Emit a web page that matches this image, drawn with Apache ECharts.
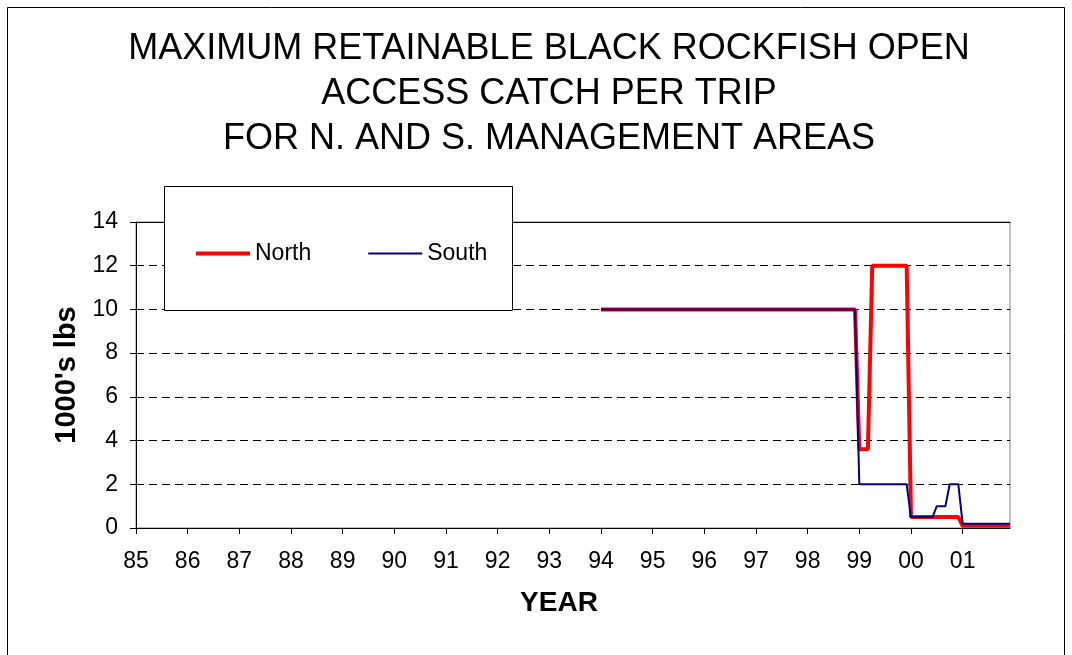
<!DOCTYPE html>
<html>
<head>
<meta charset="utf-8">
<script src="https://cdn.jsdelivr.net/npm/echarts@6/dist/echarts.min.js"></script>
<style>
html,body{margin:0;padding:0;background:#fff;}
#chart{width:1072px;height:655px;}
</style>
</head>
<body>
<div id="chart"></div>
<script>
// Tick labels (years) and months making up the monthly category axis
const yearLabels = ['85','86','87','88','89','90','91','92','93','94','95','96','97','98','99','00','01'];
const monthNames = ['Jan','Feb','Mar','Apr','May','Jun','Jul','Aug','Sep','Oct','Nov','Dec'];
const _ = null;

// North management area, monthly values (1000's lbs), Jan 1985 .. Dec 2001
const north = [
  _,_,_,_,_,_,_,_,_,_,_,_,          // 85
  _,_,_,_,_,_,_,_,_,_,_,_,          // 86
  _,_,_,_,_,_,_,_,_,_,_,_,          // 87
  _,_,_,_,_,_,_,_,_,_,_,_,          // 88
  _,_,_,_,_,_,_,_,_,_,_,_,          // 89
  _,_,_,_,_,_,_,_,_,_,_,_,          // 90
  _,_,_,_,_,_,_,_,_,_,_,_,          // 91
  _,_,_,_,_,_,_,_,_,_,_,_,          // 92
  _,_,_,_,_,_,_,_,_,_,_,_,          // 93
  10,10,10,10,10,10,10,10,10,10,10,10, // 94
  10,10,10,10,10,10,10,10,10,10,10,10, // 95
  10,10,10,10,10,10,10,10,10,10,10,10, // 96
  10,10,10,10,10,10,10,10,10,10,10,10, // 97
  10,10,10,10,10,10,10,10,10,10,10,10, // 98
  3.6,3.6,3.6,12,12,12,12,12,12,12,12,12, // 99
  0.5,0.5,0.5,0.5,0.5,0.5,0.5,0.5,0.5,0.5,0.5,0.5, // 00
  0.1,0.1,0.1,0.1,0.1,0.1,0.1,0.1,0.1,0.1,0.1,0.1  // 01
];

// South management area, monthly values (1000's lbs), Jan 1985 .. Dec 2001
const south = [
  _,_,_,_,_,_,_,_,_,_,_,_,          // 85
  _,_,_,_,_,_,_,_,_,_,_,_,          // 86
  _,_,_,_,_,_,_,_,_,_,_,_,          // 87
  _,_,_,_,_,_,_,_,_,_,_,_,          // 88
  _,_,_,_,_,_,_,_,_,_,_,_,          // 89
  _,_,_,_,_,_,_,_,_,_,_,_,          // 90
  _,_,_,_,_,_,_,_,_,_,_,_,          // 91
  _,_,_,_,_,_,_,_,_,_,_,_,          // 92
  _,_,_,_,_,_,_,_,_,_,_,_,          // 93
  10,10,10,10,10,10,10,10,10,10,10,10, // 94
  10,10,10,10,10,10,10,10,10,10,10,10, // 95
  10,10,10,10,10,10,10,10,10,10,10,10, // 96
  10,10,10,10,10,10,10,10,10,10,10,10, // 97
  10,10,10,10,10,10,10,10,10,10,10,10, // 98
  2,2,2,2,2,2,2,2,2,2,2,2,             // 99
  0.5,0.5,0.5,0.5,0.5,0.5,1,1,1,2,2,2, // 00
  0.2,0.2,0.2,0.2,0.2,0.2,0.2,0.2,0.2,0.2,0.2,0.2  // 01
];

const categories = [];
yearLabels.forEach(y => monthNames.forEach(m => categories.push(m + ' ' + y)));

const FONT = "'Liberation Sans', Arial, sans-serif";

const chart = echarts.init(document.getElementById('chart'), null, {renderer: 'canvas'});
chart.setOption({
  animation: false,
  backgroundColor: '#ffffff',
  title: {
    text: 'MAXIMUM RETAINABLE BLACK ROCKFISH OPEN\nACCESS CATCH PER TRIP\nFOR N. AND S. MANAGEMENT AREAS',
    left: 544,
    top: 22,
    textAlign: 'center',
    textStyle: {fontFamily: FONT, fontSize: 36, fontWeight: 'normal', color: '#000', lineHeight: 45}
  },
  grid: {
    left: 136, right: 62, top: 222, bottom: 127,
    show: true, borderColor: '#808080', borderWidth: 1, backgroundColor: 'transparent'
  },
  legend: {
    left: 196, top: 242, padding: 0, z: 200,
    itemWidth: 54, itemHeight: 14, itemGap: 57,
    textStyle: {fontFamily: FONT, fontSize: 23, color: '#000'},
    data: [
      {name: 'North', icon: 'path://M0 0H54V4H0Z'},
      {name: 'South', icon: 'path://M0 0H54V2H0Z'}
    ]
  },
  xAxis: [{
    type: 'category',
    data: categories,
    boundaryGap: false,
    name: 'YEAR',
    nameLocation: 'middle',
    nameGap: 61,
    nameTextStyle: {fontFamily: FONT, fontSize: 28, fontWeight: 'bold', color: '#000', padding: [0, 28, 0, 0]},
    axisLine: {show: true, lineStyle: {color: '#000', width: 1}},
    axisTick: {show: true, interval: 11, length: 6, lineStyle: {color: '#000'}},
    axisLabel: {
      interval: 11, margin: 22, color: '#000', fontFamily: FONT, fontSize: 23,
      formatter: v => v.split(' ')[1]
    },
    splitLine: {show: false}
  }, {
    type: 'category',
    data: categories,
    boundaryGap: false,
    position: 'top',
    axisLine: {show: true, lineStyle: {color: '#000', width: 1}},
    axisTick: {show: false},
    axisLabel: {show: false},
    splitLine: {show: false}
  }],
  yAxis: {
    type: 'value',
    min: 0, max: 14, interval: 2,
    name: "1000's lbs",
    nameLocation: 'middle',
    nameGap: 47,
    nameRotate: 90,
    nameTextStyle: {fontFamily: FONT, fontSize: 29, fontWeight: 'bold', color: '#000'},
    axisLine: {show: true, lineStyle: {color: '#000', width: 1}},
    axisTick: {show: true, length: 6, lineStyle: {color: '#000'}},
    axisLabel: {margin: 18, color: '#000', fontFamily: FONT, fontSize: 23},
    splitLine: {show: true, lineStyle: {color: '#000', type: [8, 5], width: 1}}
  },
  graphic: [
    {type: 'rect', z: 1, silent: true,
     shape: {x: 7.5, y: 7.5, width: 1057, height: 700},
     style: {fill: 'none', stroke: '#000', lineWidth: 1}},
    {type: 'rect', z: 100, silent: true,
     shape: {x: 164.5, y: 186.5, width: 348, height: 124},
     style: {fill: '#fff', stroke: '#000', lineWidth: 1}}
  ],
  series: [{
    name: 'North',
    type: 'line',
    data: north,
    showSymbol: false,
    symbol: 'none',
    connectNulls: false,
    lineStyle: {color: '#ff0000', width: 4},
    itemStyle: {color: '#ff0000'}
  }, {
    name: 'South',
    type: 'line',
    data: south,
    showSymbol: false,
    symbol: 'none',
    connectNulls: false,
    lineStyle: {color: '#000080', width: 2},
    itemStyle: {color: '#000080'}
  }]
});
</script>
</body>
</html>
